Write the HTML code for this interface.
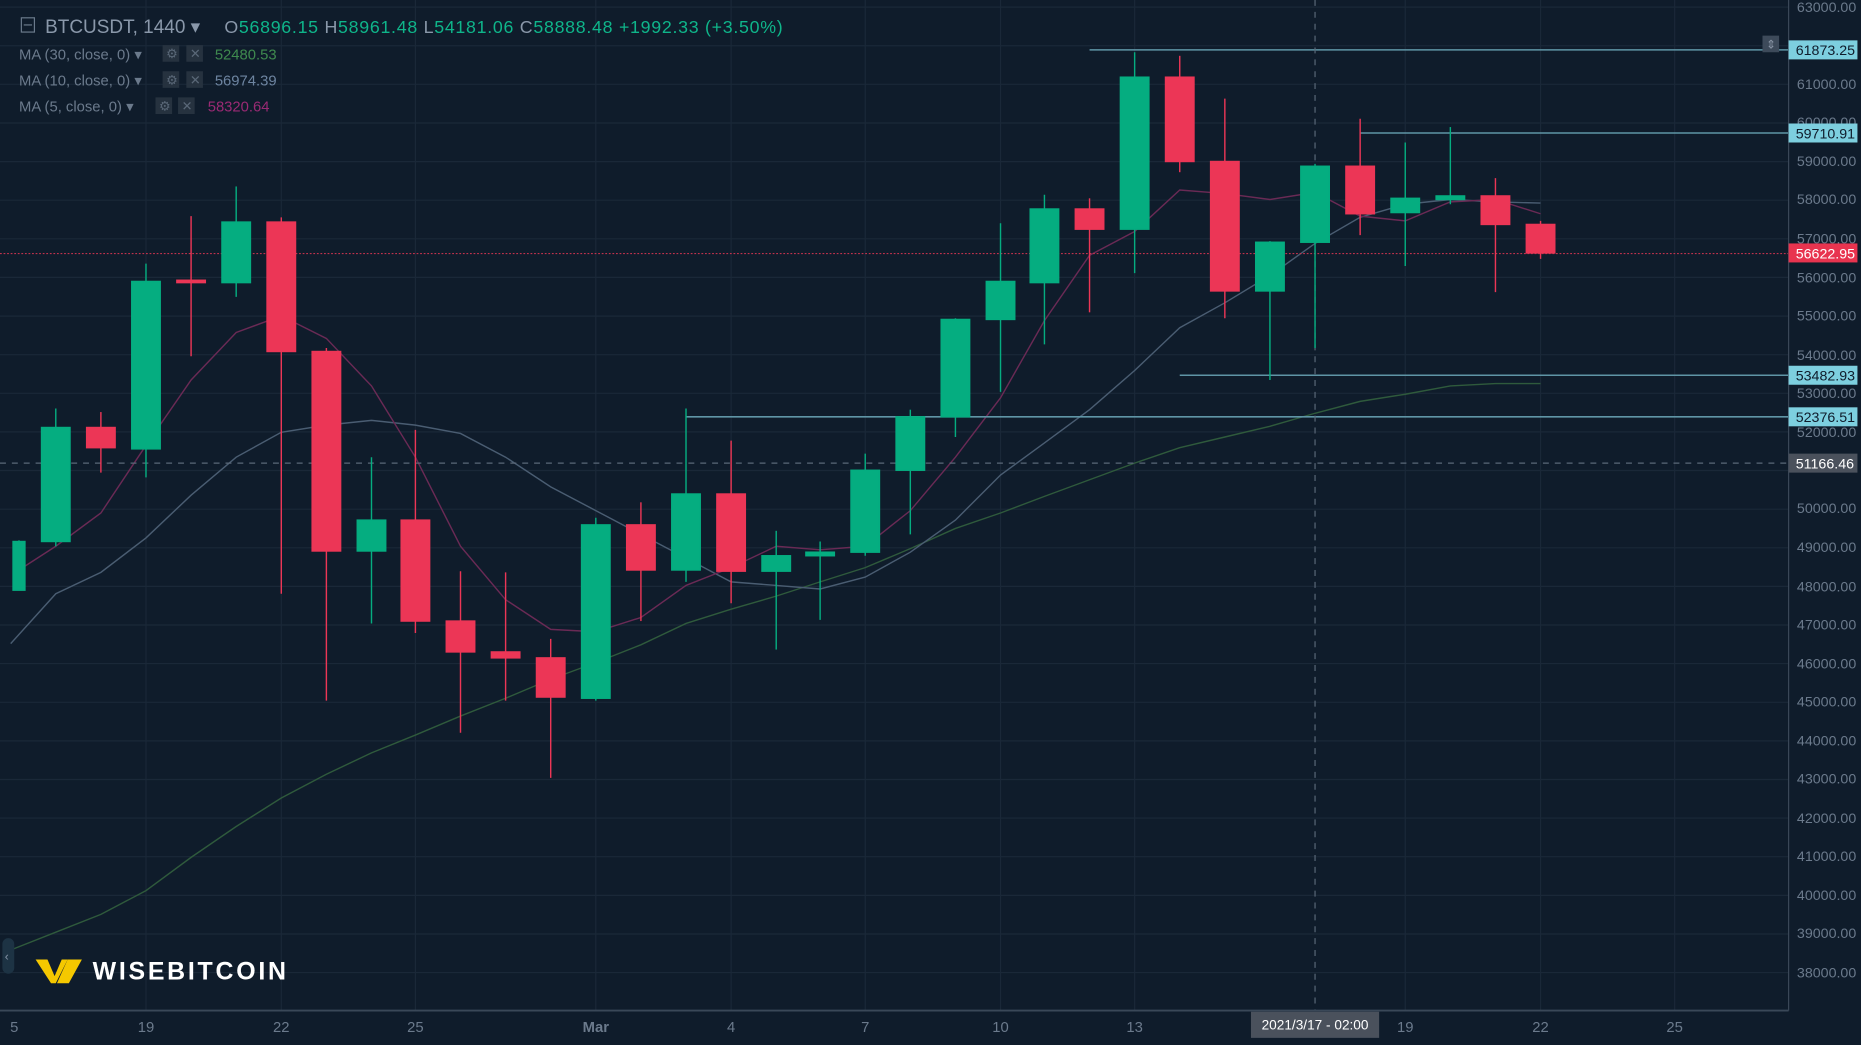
<!DOCTYPE html>
<html><head><meta charset="utf-8"><style>
html,body{margin:0;padding:0;background:#0f1c2b;overflow:hidden}
svg{display:block}
text{font-family:"Liberation Sans",sans-serif}
</style></head><body>
<svg width="1861" height="1045" viewBox="0 0 1568 880" preserveAspectRatio="none" xmlns="http://www.w3.org/2000/svg">
<rect width="1568" height="880" fill="#0f1c2b"/>
<g stroke="#1a2838" stroke-width="1">
<line x1="0" x2="1507" y1="6" y2="6"/><line x1="0" x2="1507" y1="38.5" y2="38.5"/><line x1="0" x2="1507" y1="71" y2="71"/><line x1="0" x2="1507" y1="103.6" y2="103.6"/><line x1="0" x2="1507" y1="136.1" y2="136.1"/><line x1="0" x2="1507" y1="168.6" y2="168.6"/><line x1="0" x2="1507" y1="201.1" y2="201.1"/><line x1="0" x2="1507" y1="233.6" y2="233.6"/><line x1="0" x2="1507" y1="266.2" y2="266.2"/><line x1="0" x2="1507" y1="298.7" y2="298.7"/><line x1="0" x2="1507" y1="331.2" y2="331.2"/><line x1="0" x2="1507" y1="363.7" y2="363.7"/><line x1="0" x2="1507" y1="396.2" y2="396.2"/><line x1="0" x2="1507" y1="428.8" y2="428.8"/><line x1="0" x2="1507" y1="461.3" y2="461.3"/><line x1="0" x2="1507" y1="493.8" y2="493.8"/><line x1="0" x2="1507" y1="526.3" y2="526.3"/><line x1="0" x2="1507" y1="558.8" y2="558.8"/><line x1="0" x2="1507" y1="591.4" y2="591.4"/><line x1="0" x2="1507" y1="623.9" y2="623.9"/><line x1="0" x2="1507" y1="656.4" y2="656.4"/><line x1="0" x2="1507" y1="688.9" y2="688.9"/><line x1="0" x2="1507" y1="721.4" y2="721.4"/><line x1="0" x2="1507" y1="754" y2="754"/><line x1="0" x2="1507" y1="786.5" y2="786.5"/><line x1="0" x2="1507" y1="819" y2="819"/>
<line y1="0" y2="851" x1="123" x2="123"/><line y1="0" y2="851" x1="237" x2="237"/><line y1="0" y2="851" x1="350" x2="350"/><line y1="0" y2="851" x1="502" x2="502"/><line y1="0" y2="851" x1="616" x2="616"/><line y1="0" y2="851" x1="729" x2="729"/><line y1="0" y2="851" x1="843" x2="843"/><line y1="0" y2="851" x1="956" x2="956"/><line y1="0" y2="851" x1="1184" x2="1184"/><line y1="0" y2="851" x1="1298" x2="1298"/><line y1="0" y2="851" x1="1411" x2="1411"/>
</g>
<polyline fill="none" stroke="#2f5a3c" stroke-width="1.2" points="9,800 47,785 85,770 123,750 161,722 199,696 237,672 275,652 313,634 350,619 388,603 426,588 464,572 502,558 540,543 578,525 616,513 654,502 691,490 729,478 767,462 805,445 843,432 880,418 918,404 956,390 994,377 1032,368 1070,359 1108,348 1146,338 1184,332 1222,325 1260,323 1298,323"/>
<polyline fill="none" stroke="#4a5d72" stroke-width="1.2" points="9,542 47,500 85,482 123,453 161,417 199,385 237,364 275,358 313,354 350,358 388,365 426,385 464,410 502,430 540,450 578,470 616,490 654,493 691,496 729,486 767,465 805,438 843,400 880,373 918,345 956,312 994,276 1032,255 1070,232 1108,205 1146,183 1184,172 1222,168 1260,170 1298,171"/>
<polyline fill="none" stroke="#6a2a55" stroke-width="1.2" points="16,480 47,460 85,432 123,375 161,320 199,280 237,266 275,285 313,325 350,385 388,460 426,505 464,530 502,532 540,520 578,493 616,478 654,460 691,463 729,460 767,430 805,385 843,335 880,270 918,215 956,195 994,160 1032,163 1070,168 1108,162 1146,182 1184,186 1222,170 1260,168 1298,180"/>
<g stroke="#5f95a6" stroke-width="1.3">
<line x1="918" x2="1507" y1="42" y2="42"/><line x1="1146" x2="1507" y1="112" y2="112"/><line x1="994" x2="1507" y1="316" y2="316"/><line x1="578" x2="1507" y1="351" y2="351"/>
</g>
<line x1="0" x2="1507" y1="213.5" y2="213.5" stroke="#c0324d" stroke-dasharray="1.5,1.5" stroke-width="1"/>
<line x1="0" x2="1507" y1="390" y2="390" stroke="#5a6878" stroke-dasharray="5,5" stroke-width="1"/>
<line x1="1108" x2="1108" y1="0" y2="851" stroke="#5a6878" stroke-dasharray="5,5" stroke-width="1"/>
<g stroke-width="1.2">
<g stroke="#05ad80" fill="#05ad80">
<line x1="16" x2="16" y1="455" y2="497"/><rect x="11" y="456" width="10" height="41"/>
<line x1="47" x2="47" y1="344" y2="460"/><rect x="35" y="360" width="24" height="96"/>
<line x1="123" x2="123" y1="222" y2="402"/><rect x="111" y="237" width="24" height="141"/>
<line x1="199" x2="199" y1="157" y2="250"/><rect x="187" y="187" width="24" height="51"/>
<line x1="313" x2="313" y1="385" y2="525"/><rect x="301" y="438" width="24" height="26"/>
<line x1="502" x2="502" y1="436" y2="590"/><rect x="490" y="442" width="24" height="146"/>
<line x1="578" x2="578" y1="344" y2="490"/><rect x="566" y="416" width="24" height="64"/>
<line x1="654" x2="654" y1="447" y2="547"/><rect x="642" y="468" width="24" height="13"/>
<line x1="691" x2="691" y1="456" y2="522"/><rect x="679" y="465" width="24" height="3"/>
<line x1="729" x2="729" y1="382" y2="468"/><rect x="717" y="396" width="24" height="69"/>
<line x1="767" x2="767" y1="345" y2="450"/><rect x="755" y="351" width="24" height="45"/>
<line x1="805" x2="805" y1="268" y2="368"/><rect x="793" y="269" width="24" height="82"/>
<line x1="843" x2="843" y1="188" y2="330"/><rect x="831" y="237" width="24" height="32"/>
<line x1="880" x2="880" y1="164" y2="290"/><rect x="868" y="176" width="24" height="62"/>
<line x1="956" x2="956" y1="44" y2="230"/><rect x="944" y="65" width="24" height="128"/>
<line x1="1070" x2="1070" y1="203" y2="320"/><rect x="1058" y="204" width="24" height="41"/>
<line x1="1108" x2="1108" y1="138" y2="293"/><rect x="1096" y="140" width="24" height="64"/>
<line x1="1184" x2="1184" y1="120" y2="224"/><rect x="1172" y="167" width="24" height="12"/>
<line x1="1222" x2="1222" y1="107" y2="172"/><rect x="1210" y="165" width="24" height="3"/>
</g>
<g stroke="#ec3656" fill="#ec3656">
<line x1="85" x2="85" y1="347" y2="398"/><rect x="73" y="360" width="24" height="17"/>
<line x1="161" x2="161" y1="182" y2="300"/><rect x="149" y="236" width="24" height="2"/>
<line x1="237" x2="237" y1="183" y2="500"/><rect x="225" y="187" width="24" height="109"/>
<line x1="275" x2="275" y1="293" y2="590"/><rect x="263" y="296" width="24" height="168"/>
<line x1="350" x2="350" y1="362" y2="533"/><rect x="338" y="438" width="24" height="85"/>
<line x1="388" x2="388" y1="481" y2="617"/><rect x="376" y="523" width="24" height="26"/>
<line x1="426" x2="426" y1="482" y2="590"/><rect x="414" y="549" width="24" height="5"/>
<line x1="464" x2="464" y1="538" y2="655"/><rect x="452" y="554" width="24" height="33"/>
<line x1="540" x2="540" y1="423" y2="523"/><rect x="528" y="442" width="24" height="38"/>
<line x1="616" x2="616" y1="371" y2="508"/><rect x="604" y="416" width="24" height="65"/>
<line x1="918" x2="918" y1="167" y2="263"/><rect x="906" y="176" width="24" height="17"/>
<line x1="994" x2="994" y1="47" y2="145"/><rect x="982" y="65" width="24" height="71"/>
<line x1="1032" x2="1032" y1="83" y2="268"/><rect x="1020" y="136" width="24" height="109"/>
<line x1="1146" x2="1146" y1="100" y2="198"/><rect x="1134" y="140" width="24" height="40"/>
<line x1="1260" x2="1260" y1="150" y2="246"/><rect x="1248" y="165" width="24" height="24"/>
<line x1="1298" x2="1298" y1="186" y2="218"/><rect x="1286" y="189" width="24" height="24"/>
</g>
</g>
<line x1="1507" x2="1507" y1="0" y2="851" stroke="#3a4858"/>
<line x1="0" x2="1507" y1="851" y2="851" stroke="#3a4858" stroke-width="1.5"/>
<g font-size="12" fill="#6b7a8c">
<text x="1514" y="10">63000.00</text><text x="1514" y="75">61000.00</text><text x="1514" y="107">60000.00</text><text x="1514" y="140">59000.00</text><text x="1514" y="172">58000.00</text><text x="1514" y="205">57000.00</text><text x="1514" y="238">56000.00</text><text x="1514" y="270">55000.00</text><text x="1514" y="303">54000.00</text><text x="1514" y="335">53000.00</text><text x="1514" y="368">52000.00</text><text x="1514" y="432">50000.00</text><text x="1514" y="465">49000.00</text><text x="1514" y="498">48000.00</text><text x="1514" y="530">47000.00</text><text x="1514" y="563">46000.00</text><text x="1514" y="595">45000.00</text><text x="1514" y="628">44000.00</text><text x="1514" y="660">43000.00</text><text x="1514" y="693">42000.00</text><text x="1514" y="725">41000.00</text><text x="1514" y="758">40000.00</text><text x="1514" y="790">39000.00</text><text x="1514" y="823">38000.00</text>
</g>
<g font-size="12">
<rect x="1507" y="34" width="58" height="16" fill="#7dcfdf"/><text x="1513" y="46.5" fill="#0f1c2b">61873.25</text>
<rect x="1507" y="104" width="58" height="16" fill="#7dcfdf"/><text x="1513" y="116.5" fill="#0f1c2b">59710.91</text>
<rect x="1507" y="205" width="58" height="16" fill="#e8344f"/><text x="1513" y="217.5" fill="#fff">56622.95</text>
<rect x="1507" y="308" width="58" height="16" fill="#7dcfdf"/><text x="1513" y="320.5" fill="#0f1c2b">53482.93</text>
<rect x="1507" y="343" width="58" height="16" fill="#7dcfdf"/><text x="1513" y="355.5" fill="#0f1c2b">52376.51</text>
<rect x="1507" y="382" width="58" height="16" fill="#4a515c"/><text x="1513" y="394.5" fill="#fff">51166.46</text>
</g>
<rect x="1485" y="30" width="14" height="14" fill="#3d4a5a"/><text x="1488" y="41" font-size="10" fill="#8a96a6">⇕</text>
<g font-size="12.5" fill="#6b7a8c" text-anchor="middle">
<text x="12" y="869">5</text><text x="123" y="869">19</text><text x="237" y="869">22</text><text x="350" y="869">25</text><text x="502" y="869" font-weight="bold">Mar</text><text x="616" y="869">4</text><text x="729" y="869">7</text><text x="843" y="869">10</text><text x="956" y="869">13</text><text x="1184" y="869">19</text><text x="1298" y="869">22</text><text x="1411" y="869">25</text>
</g>
<rect x="1054" y="852" width="108" height="22" fill="#4a515c"/>
<text x="1108" y="867" font-size="11.5" fill="#fff" text-anchor="middle">2021/3/17 - 02:00</text>
<rect x="18" y="15" width="11" height="12" fill="none" stroke="#6b7a8c"/><line x1="20" x2="27" y1="21" y2="21" stroke="#6b7a8c"/>
<text x="38" y="28" font-size="16" fill="#8a98aa">BTCUSDT, 1440 ▾</text>
<text x="189" y="28" font-size="15" fill="#8a98aa" letter-spacing="0.6">O<tspan fill="#0fb58a">56896.15</tspan>  H<tspan fill="#0fb58a">58961.48</tspan>  L<tspan fill="#0fb58a">54181.06</tspan>  C<tspan fill="#0fb58a">58888.48</tspan>  <tspan fill="#0fb58a">+1992.33 (+3.50%)</tspan></text>
<g font-size="12.5" fill="#6b7a8c">
<text x="16" y="50">MA (30, close, 0) ▾</text><text x="16" y="72">MA (10, close, 0) ▾</text><text x="16" y="94">MA (5, close, 0) ▾</text>
</g>
<g fill="#26323f"><rect x="137" y="38" width="14" height="14"/><rect x="157" y="38" width="14" height="14"/><rect x="137" y="60" width="14" height="14"/><rect x="157" y="60" width="14" height="14"/><rect x="131" y="82" width="14" height="14"/><rect x="150" y="82" width="14" height="14"/></g>
<g font-size="11" fill="#5a6878"><text x="140" y="49">⚙</text><text x="160" y="49">✕</text><text x="140" y="71">⚙</text><text x="160" y="71">✕</text><text x="134" y="93">⚙</text><text x="153" y="93">✕</text></g>
<text x="181" y="50" font-size="12.5" fill="#3f8a4f">52480.53</text>
<text x="181" y="72" font-size="12.5" fill="#6d84a0">56974.39</text>
<text x="175" y="94" font-size="12.5" fill="#9a2a74">58320.64</text>
<rect x="2" y="790" width="10" height="30" rx="5" fill="#1d3344"/><text x="4" y="809" font-size="10" fill="#8a98aa">‹</text>
<polygon points="30,808 40,808 46,822 52,808 57,808 47,828 43,828" fill="#f5c800"/>
<polygon points="57,808 69,808 58,828 48,828" fill="#f5c800"/>
<text x="78" y="825" font-size="21" font-weight="bold" fill="#ffffff" letter-spacing="2.3">WISEBITCOIN</text>
</svg>
</body></html>
